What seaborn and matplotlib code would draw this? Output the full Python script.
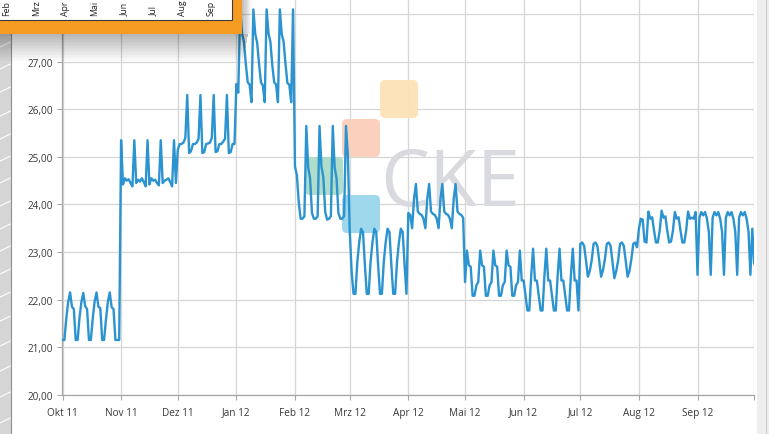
# %% MODULE BEGINS
module_name = 'plot'

'''
Description:
    Tagesverlauf Okt 11 - Sep 12 als Liniendiagramm, nachgebaut mit seaborn.
    Speichert das Bild als out.png (769x435).
'''

# %% IMPORTS                    ~~~~~~~~~~~~~~~~~~~~~~~~~~~~~~~~~~~~~~~~~~~~
from matplotlib import pyplot as plt
from matplotlib.patches import Rectangle, FancyBboxPatch
from matplotlib.lines import Line2D
from matplotlib.transforms import Affine2D
import seaborn as sns
import pandas as pd


# %% CONSTANTS                   ~~~~~~~~~~~~~~~~~~~~~~~~~~~~~~~~~~~~~~~~~~~~

# Tageswerte, je Monat eine Liste
okt_11 = [21.15, 21.15, 21.60, 21.95, 22.15, 21.85, 21.80,
          21.15, 21.15, 21.62, 21.95, 22.14, 21.86, 21.80,
          21.15, 21.15, 21.60, 21.96, 22.15, 21.85, 21.82,
          21.15, 21.15, 21.58, 21.95, 22.15, 21.84, 21.80,
          21.15, 21.15, 21.15]
nov_11 = [25.35, 24.42, 24.55, 24.50, 24.53, 24.45, 24.38,
          25.35, 24.45, 24.52, 24.48, 24.55, 24.47, 24.38,
          25.35, 24.42, 24.55, 24.50, 24.52, 24.45, 24.40,
          25.35, 24.45, 24.50, 24.52, 24.55, 24.47, 24.38,
          25.35, 24.45]
dez_11 = [25.15, 25.27, 25.27, 25.30, 25.40,
          26.30, 25.08, 25.12, 25.27, 25.27, 25.30, 25.38,
          26.30, 25.08, 25.10, 25.27, 25.28, 25.30, 25.40,
          26.30, 25.10, 25.12, 25.27, 25.27, 25.32, 25.38,
          26.30, 25.08, 25.10, 25.27, 25.27]
jan_12 = [26.53, 26.35,
          28.10, 27.60, 27.42, 26.95, 26.57, 26.52, 26.15,
          28.10, 27.58, 27.40, 26.95, 26.57, 26.50, 26.15,
          28.10, 27.60, 27.42, 26.93, 26.57, 26.52, 26.15,
          28.10, 27.58, 27.42, 26.95, 26.55, 26.52, 26.15,
          28.10]
feb_12 = [24.80, 24.62, 24.05, 23.70, 23.70, 23.75,
          25.65, 24.78, 24.55, 23.82, 23.70, 23.70, 23.75,
          25.65, 24.80, 24.58, 23.85, 23.68, 23.70, 23.75,
          25.65, 24.78, 24.55, 23.82, 23.70, 23.70, 23.75,
          25.65, 25.03]
mrz_12 = [23.43, 22.58, 22.12, 22.12, 22.79, 23.20,
          23.49, 23.42, 22.73, 22.12, 22.12, 22.79, 23.20,
          23.49, 23.42, 22.73, 22.12, 22.12, 22.79, 23.20,
          23.49, 23.42, 22.73, 22.12, 22.12, 22.79, 23.20,
          23.49, 23.42, 22.73, 22.12]
apr_12 = [23.82, 23.78, 23.50, 24.12,
          24.43, 23.85, 23.80, 23.78, 23.70, 23.50, 24.12,
          24.43, 23.85, 23.80, 23.78, 23.70, 23.50, 24.12,
          24.43, 23.85, 23.80, 23.78, 23.70, 23.50, 24.12,
          24.43, 23.85, 23.80, 23.78, 23.72]
mai_12 = [22.37,
          23.03, 22.72, 22.69, 22.08, 22.08, 22.30, 22.37,
          23.03, 22.72, 22.69, 22.08, 22.08, 22.30, 22.37,
          23.03, 22.72, 22.69, 22.08, 22.08, 22.30, 22.37,
          23.03, 22.72, 22.69, 22.08, 22.08, 22.30, 22.37,
          23.03, 22.40]
jun_12 = [22.40, 22.09, 21.77, 21.77, 22.50,
          23.07, 22.40, 22.40, 22.09, 21.77, 21.77, 22.50,
          23.07, 22.40, 22.40, 22.09, 21.77, 21.77, 22.50,
          23.07, 22.40, 22.40, 22.09, 21.77, 21.77, 22.50,
          23.07, 22.40, 22.40, 21.77]
jul_12 = [23.17, 23.20, 23.13, 22.82, 22.48, 22.60, 22.82,
          23.17, 23.20, 23.13, 22.82, 22.48, 22.62, 22.85,
          23.17, 23.20, 23.13, 22.80, 22.45, 22.60, 22.82,
          23.17, 23.20, 23.13, 22.82, 22.48, 22.60, 22.85,
          23.17, 23.20, 23.10]
aug_12 = [23.49, 23.70, 23.68, 23.22, 23.20,
          23.85, 23.70, 23.73, 23.45, 23.20, 23.20, 23.45,
          23.87, 23.72, 23.75, 23.45, 23.20, 23.22, 23.45,
          23.84, 23.70, 23.73, 23.45, 23.20, 23.20, 23.45,
          23.85, 23.70, 23.72, 23.70, 23.84]
sep_12 = [22.52, 23.72, 23.84, 23.77, 23.84, 23.70, 23.42,
          22.52, 23.72, 23.84, 23.77, 23.84, 23.70, 23.42,
          22.52, 23.72, 23.84, 23.77, 23.84, 23.70, 23.42,
          22.52, 23.72, 23.84, 23.77, 23.84, 23.70, 23.42,
          22.52, 23.49]
okt_12 = [22.75]

start_date = '2011-10-01'
month_labels = ['Okt 11', 'Nov 11', 'Dez 11', 'Jan 12', 'Feb 12', 'Mrz 12',
                'Apr 12', 'Mai 12', 'Jun 12', 'Jul 12', 'Aug 12', 'Sep 12', '']
y_ticks = [20, 21, 22, 23, 24, 25, 26, 27, 28]
# 28,00 liegt unter dem orangen kasten und ist im original nicht zu sehen
y_labels = ['20,00', '21,00', '22,00', '23,00', '24,00', '25,00', '26,00', '27,00', '']

# Reste der darueberliegenden Grafik (orange Kasten oben links)
box_labels = ['Feb', 'Mrz', 'Apr', 'Mai', 'Jun', 'Jul', 'Aug', 'Sep']
logo_text = 'CKE'

# Farben
LINE_BLUE = '#2b93cf'
GRID = '#d6d6d6'
AXIS = '#a6a6a6'
TEXT = '#3a3a3a'
ORANGE = '#f59b22'

W, H = 769, 435


# %% DECLARATIONS                ~~~~~~~~~~~~~~~~~~~~~~~~~~~~~~~~~~~~~~~~~~~~

def decorate(fig, ax, px):
    # logo hinter der linie
    squares = [((380, 81), '#fde2b6'), ((342, 120), '#fbcfba'),
               ((305, 158), '#acdcc6'), ((342, 196), '#9ad6ec')]
    for (x, y), col in squares:
        ax.add_patch(FancyBboxPatch((x, y), 38, 38, boxstyle='round,pad=0,rounding_size=5',
                                    transform=px, facecolor=col, edgecolor='none',
                                    alpha=0.95, zorder=2))
    ax.text(380, 206, logo_text, transform=px, fontsize=56, color='#d8dadf',
            ha='left', va='baseline', zorder=2, fontweight='normal')

    # linker rand
    fig.add_artist(Rectangle((0, 0), 10.5, H, transform=px, facecolor='#d5d5d5',
                             edgecolor='none', zorder=5))
    for y in [48, 70, 93, 117, 140, 162, 184, 207, 230, 252, 275, 298, 322, 347, 372, 398, 424]:
        fig.add_artist(Line2D([0, 10.5], [y, y - 5], transform=px, color='white',
                              lw=0.9, alpha=0.9, zorder=6))
    fig.add_artist(Line2D([11, 11], [0, H], transform=px, color='#8f8f8f', lw=0.8, zorder=6))

    # rechter rand
    fig.add_artist(Rectangle((757, 0), 12, H, transform=px, facecolor='#eeeeee',
                             edgecolor='none', zorder=5))
    fig.add_artist(Line2D([766, 766], [0, H], transform=px, color='#cfcfcf', lw=0.8, zorder=6))

    # schatten unter dem orangen kasten
    n = 18
    for i in range(n):
        a = 0.28 * (1 - i / n)
        fig.add_artist(Rectangle((0, 35 + i * 1.5), 248 - i * 0.3, 1.5, transform=px,
                                 facecolor='black', edgecolor='none', alpha=a, zorder=9))
    for i in range(8):
        a = 0.25 * (1 - i / 8)
        fig.add_artist(Rectangle((242 + i * 1.2, 0), 1.2, 35, transform=px,
                                 facecolor='black', edgecolor='none', alpha=a, zorder=9))

    # orange kasten mit weissem innenfeld
    fig.add_artist(Rectangle((0, 0), 242, 35, transform=px, facecolor=ORANGE,
                             edgecolor='none', zorder=10))
    fig.add_artist(Rectangle((-2, -2), 234, 22.5, transform=px, facecolor='white',
                             edgecolor='#3c3c3c', lw=0.8, zorder=11))
    for i, lab in enumerate(box_labels):
        fig.text(7 + i * 29.2, 16, lab, transform=px, rotation=90, ha='center',
                 va='bottom', fontsize=6.3, color='#222222', zorder=12)


def main():
    sns.set_theme(style='whitegrid')
    plt.rcParams['font.family'] = ['Open Sans', 'DejaVu Sans']

    values = (okt_11 + nov_11 + dez_11 + jan_12 + feb_12 + mrz_12 + apr_12 +
              mai_12 + jun_12 + jul_12 + aug_12 + sep_12 + okt_12)
    dates = pd.date_range(start_date, periods=len(values), freq='D')
    df = pd.DataFrame({'Datum': dates, 'Wert': values})

    fig = plt.figure(figsize=(W / 100, H / 100), dpi=100)
    fig.patch.set_facecolor('white')
    # pixel-koordinaten (oben links = 0,0)
    px = Affine2D().scale(0.01, -0.01).translate(0, H / 100) + fig.dpi_scale_trans

    ax = fig.add_axes([62.5 / W, 39.3 / H, 691.7 / W, 428.1 / H])
    ax.set_facecolor('white')

    sns.lineplot(data=df, x='Datum', y='Wert', ax=ax, color=LINE_BLUE,
                 linewidth=1.7, zorder=3)

    month_starts = pd.date_range(start_date, periods=len(month_labels), freq='MS')
    ax.set_xlim(month_starts[0], month_starts[-1])
    ax.set_ylim(20, 29)
    ax.set_xticks(month_starts)
    ax.set_xticklabels(month_labels)
    ax.set_yticks(y_ticks)
    ax.set_yticklabels(y_labels)
    ax.set_xlabel('')
    ax.set_ylabel('')

    ax.grid(True, color=GRID, lw=0.9)
    for side in ['top', 'right']:
        ax.spines[side].set_visible(False)
    for side in ['left', 'bottom']:
        ax.spines[side].set_color(AXIS)
        ax.spines[side].set_linewidth(0.9)
    ax.tick_params(axis='both', direction='out', length=3.5, width=0.8, color=AXIS,
                   labelsize=7.2, labelcolor=TEXT)
    ax.tick_params(axis='x', pad=5, bottom=True)
    ax.tick_params(axis='y', pad=3.5, left=True)

    decorate(fig, ax, px)

    fig.savefig('out.png', dpi=100)
    plt.close(fig)


# %% SELF-RUN                   ~~~~~~~~~~~~~~~~~~~~~~~~~~~~~~~~~~~~~~~~~~~~
if __name__ == "__main__":
    main()
